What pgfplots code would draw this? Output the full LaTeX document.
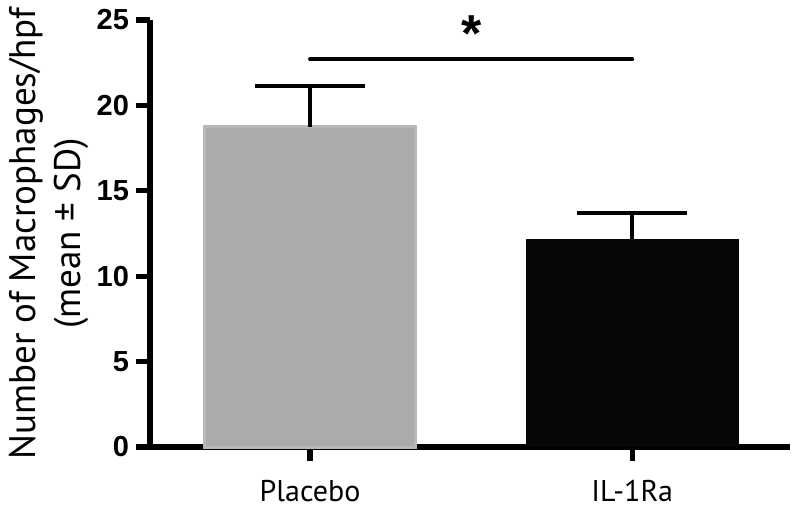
\documentclass[border=0pt]{standalone}
\usepackage{pgfplots}
\pgfplotsset{compat=1.18}
\usepackage{fontspec}
\setmainfont{PT Sans}
\newfontfamily\tickfont{Liberation Sans}
\definecolor{placebo}{HTML}{ABABAB}
\definecolor{placeboedge}{HTML}{B8B8B8}
\definecolor{ilra}{HTML}{060606}
\begin{document}
\begin{tikzpicture}
\useasboundingbox (-75pt,-31.5pt) rectangle (325pt,223.5pt);
\begin{axis}[
  at={(0,0)}, anchor=south west,
  scale only axis, width=320pt, height=213.5pt,
  xmin=-0.497, xmax=1.49, ymin=0, ymax=25,
  clip=false,
  axis x line*=bottom, axis y line*=left,
  axis line style={-, line width=2.6pt, black},
  ytick={0,5,10,15,20,25},
  xtick={0,1}, xticklabels={Placebo,IL-1Ra},
  tick align=outside, major tick length=7pt,
  tick style={line width=2.6pt, black},
  /pgf/number format/assume math mode=true,
  yticklabel style={font=\tickfont\bfseries\fontsize{14.5}{14.5}\selectfont},
  xticklabel style={font=\fontsize{15}{15}\selectfont, yshift=-6pt},
  ylabel={Number of Macrophages/hpf\\(mean ± SD)},
  ylabel style={align=center, font=\fontsize{18.5}{22.5}\selectfont,
    at={(axis description cs:-0.158,0.5)}, anchor=center},
]
\addplot[ybar, bar shift=0pt, bar width=0.655, fill=placebo, draw=placeboedge, line width=1.5pt,
  error bars/.cd, y dir=plus, y explicit,
  error bar style={line width=2pt, black},
  error mark options={rotate=90, line width=2pt, black, mark size=27.5pt}]
  coordinates {(0,18.76) +- (0,2.38)};
\addplot[ybar, bar shift=0pt, bar width=0.662, fill=ilra, draw=none,
  error bars/.cd, y dir=plus, y explicit,
  error bar style={line width=2pt, black},
  error mark options={rotate=90, line width=2pt, black, mark size=27.5pt}]
  coordinates {(1,12.18) +- (0,1.5)};
\addplot[black, line width=2pt, line cap=round] coordinates {(0,22.7) (1,22.7)};
\node[anchor=north, inner sep=0pt, font=\tickfont\bfseries\fontsize{26}{26}\selectfont] at (axis cs:0.503,25.3) {*};
\end{axis}
\end{tikzpicture}
\end{document}
